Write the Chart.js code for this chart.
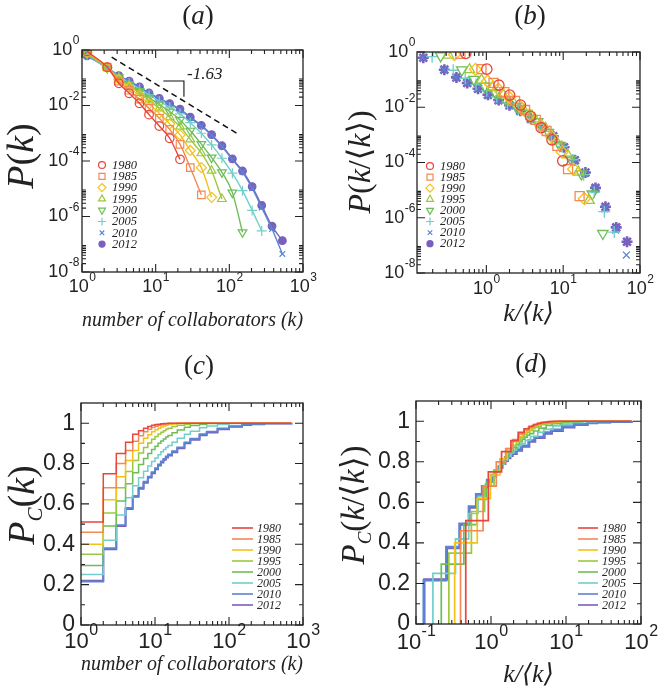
<!DOCTYPE html>
<html>
<head>
<meta charset="utf-8">
<script src="https://cdn.jsdelivr.net/npm/chart.js@4.4.1/dist/chart.umd.min.js"></script>
<style>
  body { margin: 0; background: #fff; }
  #wrap { position: relative; width: 661px; height: 691px; }
  canvas { position: absolute; }
</style>
</head>
<body>
<div id="wrap">
  <canvas id="chartA" width="330" height="345" style="left:0;top:0"></canvas>
  <canvas id="chartB" width="331" height="345" style="left:330px;top:0"></canvas>
  <canvas id="chartC" width="330" height="346" style="left:0;top:345px"></canvas>
  <canvas id="chartD" width="331" height="346" style="left:330px;top:345px"></canvas>
</div>
<script>
// ---- data ----
const years = ['1980', '1985', '1990', '1995', '2000', '2005', '2010', '2012'];

// log-binned degree values (k) used in panel (a)
const kBins = [1.17, 2.2, 3.16, 4.37, 6.03, 8.13, 11.2, 15.5, 21.4, 29.5, 41.7, 57.5, 79.4, 110, 151, 204, 275, 380, 525];

// log10 P(k), one value per bin
const logP1980 = [-0.05, -0.62, -1.2, -1.56, -1.92, -2.33, -2.74, -3.18, -3.94];
const logP1985 = [-0.07, -0.62, -1.12, -1.45, -1.77, -2.1, -2.46, -2.86, -3.4, -4.24, -5.22];
const logP1990 = [-0.09, -0.63, -1.06, -1.35, -1.64, -1.94, -2.28, -2.66, -3.06, -3.62, -4.24, -5.31];
const logP1995 = [-0.11, -0.64, -1.02, -1.29, -1.55, -1.82, -2.1, -2.42, -2.76, -3.22, -3.72, -4.35, -5.37];
const logP2000 = [-0.14, -0.65, -0.99, -1.24, -1.48, -1.72, -1.96, -2.22, -2.52, -2.91, -3.39, -3.88, -4.41, -5.14, -6.57];
const logP2005 = [-0.17, -0.66, -0.95, -1.18, -1.4, -1.62, -1.84, -2.06, -2.3, -2.62, -3.0, -3.42, -3.9, -4.44, -5.07, -5.78, -6.52];
const logP2010 = [-0.2, -0.64, -0.93, -1.13, -1.34, -1.56, -1.76, -1.95, -2.15, -2.44, -2.74, -3.08, -3.48, -3.95, -4.4, -4.98, -5.68, -6.45, -7.35];
const logP2012 = [-0.21, -0.64, -0.92, -1.12, -1.33, -1.55, -1.74, -1.93, -2.13, -2.42, -2.72, -3.05, -3.45, -3.92, -4.36, -4.92, -5.6, -6.35, -6.87];
const logPByYear = [logP1980, logP1985, logP1990, logP1995, logP2000, logP2005, logP2010, logP2012];

// mean degree <k> per year (rescaling in panels b and d)
const meanK = [2.17, 2.55, 3.05, 3.65, 4.6, 5.95, 7.9, 7.75];

// reference power law and slope bracket in panel (a)
const refLineK = [2.53, 132];
const refLineP = [0.55, 9.3e-4];
const bracketK = [12.7, 24.2, 24.2];
const bracketP = [0.0763, 0.0763, 0.0207];
const slopeText = '-1.63';
const slopeLabelK = 26.6;
const slopeLabelP = 0.136;

// cumulative distribution P_C(k), panels (c) and (d)
const cdfK = [1, 2, 3, 4, 5, 6, 7, 8, 9, 10, 11, 12, 13, 14, 15, 17, 20, 25, 30, 40, 50, 70, 100, 150, 200, 300, 700];
const cdf1980 = [0.51, 0.75, 0.85, 0.905, 0.945, 0.963, 0.975, 0.984, 0.99, 0.993, 0.995, 0.997, 0.998, 0.999, 1, 1, 1, 1, 1, 1, 1, 1, 1, 1, 1, 1, 1];
const cdf1985 = [0.46, 0.68, 0.8, 0.865, 0.91, 0.938, 0.957, 0.97, 0.979, 0.985, 0.99, 0.993, 0.995, 0.997, 0.998, 0.999, 1, 1, 1, 1, 1, 1, 1, 1, 1, 1, 1];
const cdf1990 = [0.4, 0.62, 0.735, 0.815, 0.865, 0.9, 0.925, 0.943, 0.957, 0.967, 0.975, 0.981, 0.986, 0.99, 0.993, 0.996, 0.998, 1, 1, 1, 1, 1, 1, 1, 1, 1, 1];
const cdf1995 = [0.35, 0.555, 0.68, 0.76, 0.815, 0.852, 0.88, 0.902, 0.92, 0.934, 0.946, 0.955, 0.963, 0.97, 0.975, 0.983, 0.99, 0.995, 0.998, 1, 1, 1, 1, 1, 1, 1, 1];
const cdf2000 = [0.295, 0.49, 0.615, 0.7, 0.755, 0.795, 0.825, 0.85, 0.87, 0.886, 0.9, 0.912, 0.922, 0.931, 0.939, 0.952, 0.966, 0.98, 0.988, 0.995, 0.998, 1, 1, 1, 1, 1, 1];
const cdf2005 = [0.25, 0.42, 0.545, 0.63, 0.69, 0.73, 0.762, 0.788, 0.81, 0.828, 0.844, 0.858, 0.87, 0.88, 0.89, 0.906, 0.925, 0.945, 0.96, 0.977, 0.986, 0.994, 0.998, 1, 1, 1, 1];
const cdf2010 = [0.215, 0.38, 0.495, 0.58, 0.64, 0.68, 0.71, 0.735, 0.757, 0.777, 0.795, 0.81, 0.823, 0.835, 0.845, 0.861, 0.88, 0.905, 0.923, 0.945, 0.958, 0.974, 0.985, 0.993, 0.996, 0.999, 1];
const cdf2012 = [0.22, 0.375, 0.49, 0.575, 0.635, 0.675, 0.705, 0.73, 0.752, 0.772, 0.79, 0.805, 0.818, 0.83, 0.84, 0.856, 0.875, 0.9, 0.918, 0.94, 0.953, 0.97, 0.982, 0.991, 0.995, 0.998, 1];
const cdfByYear = [cdf1980, cdf1985, cdf1990, cdf1995, cdf2000, cdf2005, cdf2010, cdf2012];
const cdfScaledEnd = 75;

// tick values
const decadeTicksA = [1, 10, 100, 1000];
const probTicks = [1e-8, 1e-6, 1e-4, 1e-2, 1];
const decadeTicksB = [1, 10, 100];
const cdfTicks = [0, 0.2, 0.4, 0.6, 0.8, 1];
const cdfMinorTicks = [0.1, 0.3, 0.5, 0.7, 0.9];
const decadeTicksD = [0.1, 1, 10, 100];

// ---- styles ----
const serif = "'Liberation Serif', 'DejaVu Serif', 'DejaVu Sans', serif";
const sans = "'Liberation Sans', 'DejaVu Sans', sans-serif";
const ink = '#222';
const yearColors = ['#e8453c', '#f48a53', '#f5c21b', '#9cc83f', '#6dbd58', '#72cfca', '#5b84d2', '#7a5fbd'];
const markerStyles = ['circle', 'rect', 'rectRot', 'triangle', 'triangle', 'cross', 'crossRot', 'circle'];
const markerRotation = [0, 0, 0, 0, 180, 0, 0, 0];
const markerRadius = [4.3, 5.3, 5, 5, 5, 5, 4, 3.8];

Chart.defaults.font.family = sans;
Chart.defaults.color = ink;

const decadeMinors = (exps, lo, hi) => exps
    .flatMap(e => [2, 3, 4, 5, 6, 7, 8, 9].map(m => m * Math.pow(10, e)))
    .filter(v => v > lo && v < hi);

const it = (size) => `italic ${size}px ${serif}`;
const up = (size) => `${size}px ${serif}`;

// draw a run of text pieces centred on x
const drawRich = (ctx, parts, x, y) => {
    let total = 0;
    parts.forEach(p => { ctx.font = p.font; total += ctx.measureText(p.text).width; });
    let cx = x - total / 2;
    parts.forEach(p => {
        ctx.font = p.font;
        ctx.fillText(p.text, cx, y + (p.dy || 0));
        cx += ctx.measureText(p.text).width;
    });
};

// "10" with a raised exponent, as on the original axes
const drawPow = (ctx, v, x, y, align, fs, es) => {
    const base = '10';
    const exp = String(Math.round(Math.log10(v)));
    ctx.font = `${fs}px ${sans}`;
    const wb = ctx.measureText(base).width;
    ctx.font = `${es}px ${sans}`;
    const we = ctx.measureText(exp).width;
    const left = align === 'center' ? x - (wb + we) / 2 : x - wb - we;
    ctx.textBaseline = 'middle';
    ctx.textAlign = 'left';
    ctx.font = `${fs}px ${sans}`;
    ctx.fillText(base, left, y);
    ctx.font = `${es}px ${sans}`;
    ctx.fillText(exp, left + wb + 0.5, y - fs * 0.5);
};

// frame with inward ticks on all four sides, plus power-of-ten labels
const frameTicks = {
    id: 'frameTicks',
    afterDatasetsDraw(chart, args, o) {
        const { ctx, chartArea: a } = chart;
        const sx = chart.scales.x, sy = chart.scales.y;
        ctx.save();
        ctx.strokeStyle = ink;
        ctx.lineWidth = 1.1;
        ctx.beginPath();
        const markX = (vals, len) => vals.forEach(v => {
            const px = sx.getPixelForValue(v);
            if (px < a.left - 0.5 || px > a.right + 0.5) return;
            ctx.moveTo(px, a.bottom); ctx.lineTo(px, a.bottom - len);
            ctx.moveTo(px, a.top); ctx.lineTo(px, a.top + len);
        });
        const markY = (vals, len) => vals.forEach(v => {
            const py = sy.getPixelForValue(v);
            if (py < a.top - 0.5 || py > a.bottom + 0.5) return;
            ctx.moveTo(a.left, py); ctx.lineTo(a.left + len, py);
            ctx.moveTo(a.right, py); ctx.lineTo(a.right - len, py);
        });
        markX(o.xMajor, 8); markX(o.xMinor, 4);
        markY(o.yMajor, 8); markY(o.yMinor, 4);
        ctx.stroke();
        ctx.lineWidth = 1.3;
        ctx.strokeRect(a.left, a.top, a.right - a.left, a.bottom - a.top);

        ctx.fillStyle = ink;
        if (o.xPow) o.xMajor.forEach(v => drawPow(ctx, v, sx.getPixelForValue(v), a.bottom + o.xPow.dy, 'center', o.xPow.fs, o.xPow.es));
        if (o.yPow) o.yMajor.forEach(v => drawPow(ctx, v, a.left - o.yPow.pad, sy.getPixelForValue(v), 'right', o.yPow.fs, o.yPow.es));
        ctx.restore();
    }
};

// panel letter, rotated y title, legend, slope note
const panelDecor = {
    id: 'panelDecor',
    afterDraw(chart, args, o) {
        const ctx = chart.ctx;
        ctx.save();
        ctx.fillStyle = ink;
        ctx.textAlign = 'left';
        ctx.textBaseline = 'alphabetic';
        drawRich(ctx, [{ text: '(', font: up(27) }, { text: o.letter, font: it(27) }, { text: ')', font: up(27) }], o.letterX, o.letterY);

        ctx.save();
        ctx.translate(o.yTitleX, o.yTitleY);
        ctx.rotate(-Math.PI / 2);
        drawRich(ctx, o.yTitle, 0, 0);
        ctx.restore();

        const lg = o.legend;
        years.forEach((yr, i) => {
            const y = lg.y + i * lg.dy;
            ctx.strokeStyle = yearColors[i];
            ctx.fillStyle = yearColors[i];
            if (lg.kind === 'line') {
                ctx.lineWidth = 1.6;
                ctx.beginPath();
                ctx.moveTo(lg.x, y); ctx.lineTo(lg.x + lg.len, y);
                ctx.stroke();
            } else {
                ctx.lineWidth = 1.2;
                ctx.fillStyle = i === 7 ? yearColors[i] : 'rgba(0,0,0,0)';
                Chart.helpers.drawPoint(ctx, {
                    pointStyle: markerStyles[i], rotation: markerRotation[i],
                    radius: markerRadius[i] * 0.8, borderWidth: 1.2
                }, lg.x, y);
            }
            ctx.fillStyle = ink;
            ctx.font = it(lg.size);
            ctx.textBaseline = 'middle';
            ctx.fillText(yr, lg.textX, y + 0.5);
        });

        if (o.slope) {
            ctx.font = it(17);
            ctx.textBaseline = 'middle';
            ctx.fillStyle = ink;
            ctx.fillText(slopeText, chart.scales.x.getPixelForValue(slopeLabelK), chart.scales.y.getPixelForValue(slopeLabelP));
        }
        ctx.restore();
    }
};

const fixedTicks = (vals) => (scale) => { scale.ticks = vals.map(v => ({ value: v })); };

const makeAxis = (o) => ({
    type: o.type, min: o.min, max: o.max,
    afterBuildTicks: fixedTicks(o.ticks),
    afterFit: (s) => { if (o.width) s.width = o.width; if (o.height) s.height = o.height; },
    grid: { display: false, drawTicks: false },
    border: { display: false },
    ticks: {
        display: o.type !== 'logarithmic',
        callback: (v) => String(v), autoSkip: false, maxRotation: 0, minRotation: 0,
        padding: o.pad || 0, font: { family: sans, size: o.fontSize || 18 }, color: ink
    },
    title: o.title ? {
        display: true, text: o.title, color: ink,
        font: { family: serif, size: o.titleSize, style: 'italic' },
        padding: { top: 0, bottom: o.titlePad }
    } : { display: false }
});

const makeChart = (id, datasets, o) => new Chart(document.getElementById(id), {
    type: 'scatter',
    data: { datasets },
    options: {
        responsive: false, animation: false, events: [],
        layout: { padding: o.padding },
        plugins: { legend: { display: false }, tooltip: { enabled: false }, title: { display: false },
            frameTicks: o.frame, panelDecor: o.decor },
        scales: { x: o.x, y: o.y }
    },
    plugins: [frameTicks, panelDecor]
});

// ---- panel (a) ----
const dsA = years.map((yr, i) => ({
    label: yr,
    data: logPByYear[i].map((lp, j) => ({ x: kBins[j], y: Math.pow(10, lp) })),
    showLine: true, borderColor: yearColors[i], borderWidth: 1.4, cubicInterpolationMode: 'monotone',
    pointStyle: markerStyles[i], pointRotation: markerRotation[i], pointRadius: markerRadius[i],
    pointBorderColor: yearColors[i], pointBorderWidth: 1.2,
    pointBackgroundColor: i === 7 ? yearColors[i] : 'rgba(0,0,0,0)'
}));
dsA.push({
    label: 'ref', data: refLineK.map((k, j) => ({ x: k, y: refLineP[j] })),
    showLine: true, borderColor: '#111', borderWidth: 1.5, borderDash: [6, 4], pointRadius: 0
});
dsA.push({
    label: 'bracket', data: bracketK.map((k, j) => ({ x: k, y: bracketP[j] })),
    showLine: true, borderColor: '#111', borderWidth: 1.1, pointRadius: 0
});

makeChart('chartA', dsA, {
    padding: { top: 50, right: 27, left: 0, bottom: 0 },
    x: makeAxis({ type: 'logarithmic', min: 1, max: 1000, ticks: decadeTicksA, height: 73,
        title: 'number of collaborators (k)', titleSize: 21, titlePad: 12 }),
    y: makeAxis({ type: 'logarithmic', min: 1e-8, max: 1, ticks: probTicks, width: 82 }),
    frame: { xMajor: decadeTicksA, xMinor: decadeMinors([0, 1, 2], 1, 1000),
        yMajor: probTicks, yMinor: decadeMinors([-8, -6, -4, -2], 1e-8, 1),
        xPow: { dy: 15, fs: 18, es: 12 }, yPow: { pad: 3, fs: 18, es: 12 } },
    decor: {
        letter: 'a', letterX: 198, letterY: 24,
        yTitleX: 33, yTitleY: 156,
        yTitle: [{ text: 'P', font: it(38) }, { text: '(', font: up(38) }, { text: 'k', font: it(38) }, { text: ')', font: up(38) }],
        legend: { kind: 'marker', x: 102, textX: 112, y: 165, dy: 11.3, size: 12.5 },
        slope: true
    }
});

// ---- panel (b) ----
const dsB = years.map((yr, i) => ({
    label: yr,
    data: logPByYear[i].map((lp, j) => ({ x: kBins[j] / meanK[i], y: Math.pow(10, lp) })),
    showLine: false,
    pointStyle: i === 7 ? 'star' : markerStyles[i], pointRotation: markerRotation[i],
    pointRadius: i === 7 ? 5.5 : markerRadius[i] * 1.2,
    pointBorderColor: yearColors[i], pointBorderWidth: i === 7 ? 2.6 : 1.3,
    pointBackgroundColor: 'rgba(0,0,0,0)'
}));

makeChart('chartB', dsB, {
    padding: { top: 52, right: 21, left: 0, bottom: 0 },
    x: makeAxis({ type: 'logarithmic', min: 0.125, max: 100, ticks: decadeTicksB, height: 72,
        title: 'k/⟨k⟩', titleSize: 26, titlePad: 15 }),
    y: makeAxis({ type: 'logarithmic', min: 1e-8, max: 1, ticks: probTicks, width: 87 }),
    frame: { xMajor: decadeTicksB, xMinor: decadeMinors([-1, 0, 1], 0.125, 100),
        yMajor: probTicks, yMinor: decadeMinors([-8, -6, -4, -2], 1e-8, 1),
        xPow: { dy: 16, fs: 18, es: 12 }, yPow: { pad: 2, fs: 18, es: 12 } },
    decor: {
        letter: 'b', letterX: 200, letterY: 24,
        yTitleX: 40, yTitleY: 162,
        yTitle: [{ text: 'P', font: it(32) }, { text: '(', font: up(32) }, { text: 'k', font: it(32) }, { text: '/', font: up(32) },
            { text: '⟨', font: up(32) }, { text: 'k', font: it(32) }, { text: '⟩)', font: up(32) }],
        legend: { kind: 'marker', x: 100, textX: 110, y: 166, dy: 11.1, size: 12.5 }
    }
});

// ---- panel (c) ----
const dsC = years.map((yr, i) => ({
    label: yr,
    data: cdfK.map((k, j) => ({ x: k, y: cdfByYear[i][j] })),
    showLine: true, stepped: 'before', pointRadius: 0,
    borderColor: yearColors[i], borderWidth: i >= 6 ? 1.9 : 1.5
}));

makeChart('chartC', dsC, {
    padding: { top: 58, right: 27, left: 0, bottom: 0 },
    x: makeAxis({ type: 'logarithmic', min: 1, max: 1000, ticks: decadeTicksA, height: 66,
        title: 'number of collaborators (k)', titleSize: 21, titlePad: 14 }),
    y: makeAxis({ type: 'linear', min: 0, max: 1.1, ticks: cdfTicks, pad: 6, width: 81, fontSize: 23 }),
    frame: { xMajor: decadeTicksA, xMinor: decadeMinors([0, 1, 2], 1, 1000), yMajor: cdfTicks, yMinor: cdfMinorTicks,
        xPow: { dy: 17, fs: 22, es: 16 } },
    decor: {
        letter: 'c', letterX: 199, letterY: 29,
        yTitleX: 34, yTitleY: 160,
        yTitle: [{ text: 'P', font: it(38) }, { text: 'C', font: it(21), dy: 8 }, { text: '(', font: up(38) }, { text: 'k', font: it(38) }, { text: ')', font: up(38) }],
        legend: { kind: 'line', x: 232, len: 21, textX: 257, y: 183, dy: 11, size: 12 }
    }
});

// ---- panel (d) ----
const dsD = years.map((yr, i) => {
    const pts = [{ x: 1 / meanK[i], y: 0 }];
    cdfK.forEach((k, j) => { if (k / meanK[i] < cdfScaledEnd) pts.push({ x: k / meanK[i], y: cdfByYear[i][j] }); });
    pts.push({ x: cdfScaledEnd, y: 1 });
    return {
        label: yr, data: pts, showLine: true, stepped: 'before', pointRadius: 0,
        borderColor: yearColors[i], borderWidth: i >= 6 ? 2.4 : 1.7
    };
});

makeChart('chartD', dsD, {
    padding: { top: 56, right: 20, left: 0, bottom: 0 },
    x: makeAxis({ type: 'logarithmic', min: 0.1, max: 100, ticks: decadeTicksD, height: 67,
        title: 'k/⟨k⟩', titleSize: 26, titlePad: 0 }),
    y: makeAxis({ type: 'linear', min: 0, max: 1.1, ticks: cdfTicks, pad: 6, width: 86, fontSize: 23 }),
    frame: { xMajor: decadeTicksD, xMinor: decadeMinors([-1, 0, 1], 0.1, 100), yMajor: cdfTicks, yMinor: cdfMinorTicks,
        xPow: { dy: 19, fs: 22, es: 16 } },
    decor: {
        letter: 'd', letterX: 201, letterY: 27,
        yTitleX: 34, yTitleY: 160,
        yTitle: [{ text: 'P', font: it(33) }, { text: 'C', font: it(19), dy: 7 }, { text: '(', font: up(33) }, { text: 'k', font: it(33) },
            { text: '/', font: up(33) }, { text: '⟨', font: up(33) }, { text: 'k', font: it(33) }, { text: '⟩)', font: up(33) }],
        legend: { kind: 'line', x: 248, len: 20, textX: 272, y: 183, dy: 11, size: 12 }
    }
});
</script>
</body>
</html>
